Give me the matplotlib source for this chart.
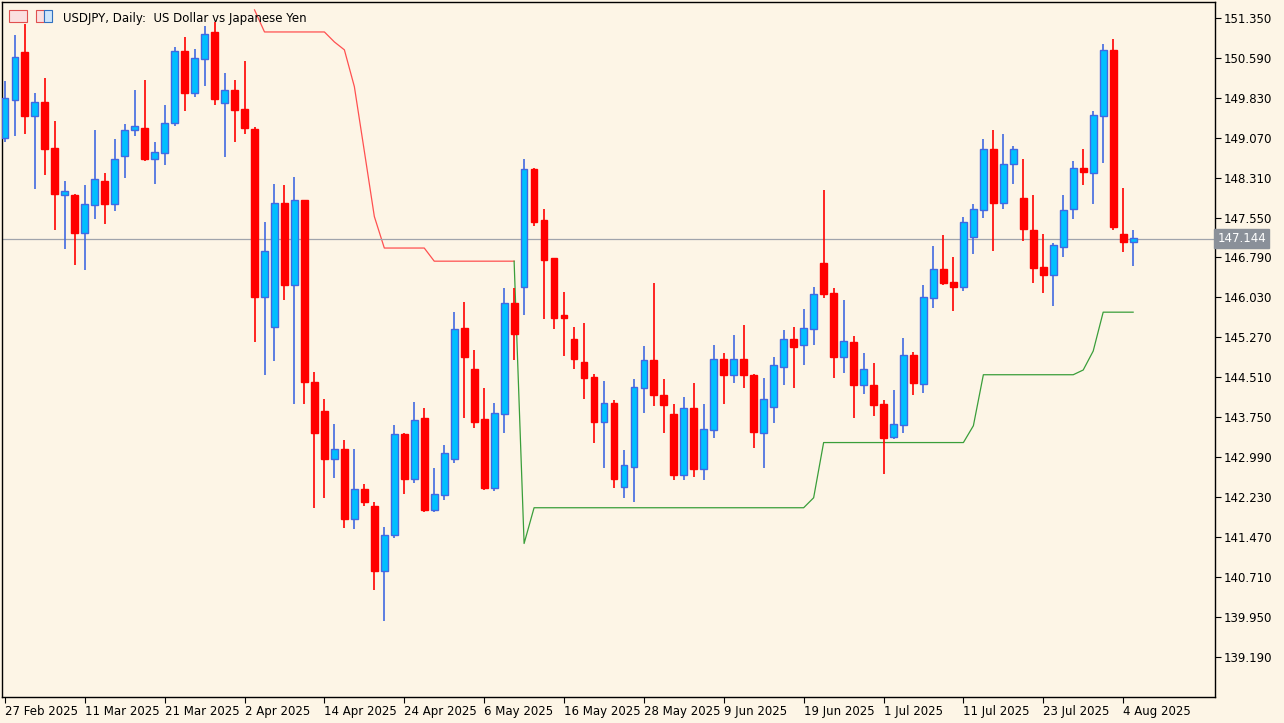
import matplotlib
matplotlib.use("Agg")
import matplotlib.pyplot as plt
import numpy as np

opens = [149.07,149.79,150.69,149.49,149.74,148.88,147.97,147.97,147.25,147.78,148.24,147.80,148.73,149.21,149.26,148.67,148.77,149.34,150.72,149.91,150.57,151.07,149.72,149.98,149.62,
         149.24,146.04,145.47,147.82,146.27,147.88,144.43,143.87,142.96,143.15,141.81,142.38,142.07,140.82,141.52,143.44,142.58,143.74,141.98,142.28,142.96,145.45,144.67,143.71,142.40,
         143.82,145.92,146.23,148.47,147.50,146.78,145.70,145.24,144.80,144.52,143.67,144.03,142.43,142.81,144.31,144.84,144.18,143.82,142.66,143.93,142.76,143.50,144.86,144.56,144.86,
         144.56,143.46,143.95,144.71,145.24,145.13,145.43,146.68,146.11,144.90,145.18,144.37,144.37,144.01,143.38,143.61,144.94,144.39,146.02,146.57,146.32,146.23,147.18,147.69,148.85,
         147.82,148.56,147.92,147.31,146.61,146.46,146.99,147.71,148.50,148.39,149.49,150.74,147.23,147.08]
highs = [150.14,151.03,151.24,149.91,150.21,149.38,148.24,147.99,148.16,149.22,148.39,149.05,149.32,149.97,150.17,148.98,149.70,150.80,150.99,150.76,151.20,151.27,150.29,150.17,150.52,
         149.28,147.46,148.18,148.16,148.33,147.88,144.62,144.10,143.63,143.31,143.14,142.49,142.13,141.67,143.61,143.46,144.05,143.93,142.79,143.23,145.75,145.94,145.03,144.31,144.03,
         146.21,146.21,148.67,148.49,147.71,146.78,146.13,145.47,145.54,144.58,144.44,144.08,143.12,144.48,145.11,146.30,144.48,144.01,144.14,144.41,144.01,145.13,144.98,145.32,145.51,
         144.58,144.50,144.90,145.41,145.47,145.81,146.23,148.07,146.21,145.98,145.30,144.98,144.79,144.08,144.27,145.26,145.00,146.27,147.00,147.21,146.80,147.56,147.80,149.05,149.22,
         149.13,148.92,148.67,147.97,147.23,147.06,147.97,148.62,148.85,149.57,150.86,150.95,148.11,147.31]
lows = [148.99,149.11,149.13,148.09,148.35,147.31,146.95,146.65,146.55,147.52,147.42,147.67,148.30,149.11,148.62,148.18,148.54,149.30,149.57,149.85,150.06,149.70,148.71,148.99,149.13,
        145.18,144.56,144.82,145.98,144.01,144.01,142.03,142.22,142.60,141.64,141.62,142.07,140.46,139.87,141.45,142.30,142.51,141.94,141.94,142.17,142.89,143.74,143.55,142.36,142.34,
        143.46,144.84,145.70,147.38,145.62,145.43,144.92,144.67,144.10,143.27,142.79,142.41,142.22,142.13,143.84,143.97,143.46,142.55,142.55,142.62,142.55,143.36,144.01,144.41,144.31,
        143.17,142.79,143.65,144.37,144.31,144.75,145.13,146.02,144.50,144.60,143.74,144.20,143.78,142.68,143.34,143.46,144.18,144.22,145.83,146.27,145.77,146.15,146.85,147.54,146.91,
        147.71,148.18,147.10,146.30,146.11,145.87,146.80,147.52,148.16,147.80,148.58,147.31,146.89,146.63]
closes = [149.83,150.61,149.49,149.74,148.86,147.99,148.05,147.25,147.80,148.28,147.80,148.66,149.22,149.30,148.67,148.79,149.34,150.72,149.91,150.59,151.05,149.81,149.98,149.60,149.26,
          146.04,146.91,147.82,146.27,147.88,144.43,143.46,142.96,143.15,141.81,142.38,142.13,140.82,141.52,143.44,142.58,143.69,141.98,142.30,143.08,145.43,144.90,143.67,142.40,143.84,
          145.92,145.33,148.47,147.46,146.74,145.64,145.64,144.86,144.50,143.67,144.03,142.57,142.85,144.33,144.84,144.18,143.99,142.66,143.93,142.77,143.52,144.86,144.56,144.86,144.56,
          143.48,144.10,144.75,145.24,145.09,145.45,146.09,146.09,144.90,145.20,144.37,144.67,143.99,143.36,143.63,144.94,144.41,146.04,146.57,146.30,146.23,147.46,147.71,148.86,147.82,
          148.56,148.85,147.33,146.59,146.46,147.02,147.69,148.50,148.41,149.51,150.74,147.37,147.08,147.16]

red_line_start = 25
red_line = [151.50,151.08,151.08,151.08,151.08,151.08,151.08,151.08,150.89,150.74,150.04,148.81,147.57,146.97,146.97,146.97,146.97,146.97,146.72,
            146.72,146.72,146.72,146.72,146.72,146.72,146.72,146.72]
green_line_start = 51
green_line = [146.72,141.35,142.03] + [142.03]*27 + [142.22,143.27] + [143.27]*14 + [143.59,144.56] + [144.56]*9 + [144.65,145.01,145.75,145.75,145.75,145.75]

date_labels = ["27 Feb 2025","11 Mar 2025","21 Mar 2025","2 Apr 2025","14 Apr 2025","24 Apr 2025","6 May 2025",
               "16 May 2025","28 May 2025","9 Jun 2025","19 Jun 2025","1 Jul 2025","11 Jul 2025","23 Jul 2025","4 Aug 2025"]
price_ticks = [151.350,150.590,149.830,149.070,148.310,147.550,146.790,146.030,145.270,144.510,143.750,142.990,142.230,141.470,140.710,139.950,139.190]
current_price = 147.144

bg = "#fdf5e6"
fig = plt.figure(figsize=(12.84, 7.23), dpi=100, facecolor=bg)
ax = fig.add_axes([0.0015, 26/723, 1215/1284 - 0.0015, 1 - 26/723 - 2/723])
ax.set_facecolor(bg)

n = len(opens)
idx = np.arange(n)
o = np.array(opens); c = np.array(closes); h = np.array(highs); l = np.array(lows)
up = c >= o
for i in range(n):
    wc = "#4169e1" if up[i] else "#ff0000"
    ax.vlines(i, l[i], h[i], color=wc, lw=1.2, zorder=2)
    bottom = min(o[i], c[i]); height = max(abs(c[i]-o[i]), 0.03)
    if up[i]:
        ax.bar(i, height, bottom=bottom, width=0.68, color="#00bfff", edgecolor="#4169e1", lw=1.0, zorder=3)
    else:
        ax.bar(i, height, bottom=bottom, width=0.68, color="#ff0000", edgecolor="#ff0000", lw=1.0, zorder=3)

ax.plot(np.arange(red_line_start, red_line_start+len(red_line)), red_line, color="#ff5050", lw=0.9, zorder=1)
ax.plot(np.arange(green_line_start, green_line_start+len(green_line)), green_line, color="#3a9e3a", lw=0.9, zorder=1)
ax.axhline(current_price, color="#a0a4ac", lw=0.9, zorder=1)

ax.set_xlim(-0.3, 121.2)
ax.set_ylim(138.43, 151.65)
ax.yaxis.tick_right()
ax.set_yticks(price_ticks)
ax.set_yticklabels([f"{p:.3f}" for p in price_ticks], fontsize=8.5)
ax.set_xticks(idx[::8][:len(date_labels)])
ax.set_xticklabels(date_labels, fontsize=8.5, ha="left")
ax.tick_params(axis="both", length=4, width=0.8, colors="black", pad=2)
for s in ax.spines.values():
    s.set_color("black"); s.set_linewidth(1.0)

ax.text(1.002, (current_price-138.43)/(151.65-138.43), f"{current_price:.3f}", transform=ax.transAxes,
        fontsize=8.5, color="white", va="center", ha="left",
        bbox=dict(boxstyle="square,pad=0.25", fc="#8a9099", ec="#8a9099"))
# small header icons
fig.patches.append(plt.Rectangle((9/1284, 1-22/723), 18/1284, 12/723, transform=fig.transFigure,
                                 fc="#fbe0e0", ec="#e05050", lw=0.8))
fig.patches.append(plt.Rectangle((36/1284, 1-22/723), 8/1284, 12/723, transform=fig.transFigure,
                                 fc="#fbe0e0", ec="#e05050", lw=0.8))
fig.patches.append(plt.Rectangle((44/1284, 1-22/723), 8/1284, 12/723, transform=fig.transFigure,
                                 fc="#cfe6fb", ec="#3070c0", lw=0.8))
ax.text(0.05, 0.985, "USDJPY, Daily:  US Dollar vs Japanese Yen", transform=ax.transAxes,
        fontsize=8.5, va="top", ha="left")

fig.savefig("out.png", dpi=100, facecolor=bg)
